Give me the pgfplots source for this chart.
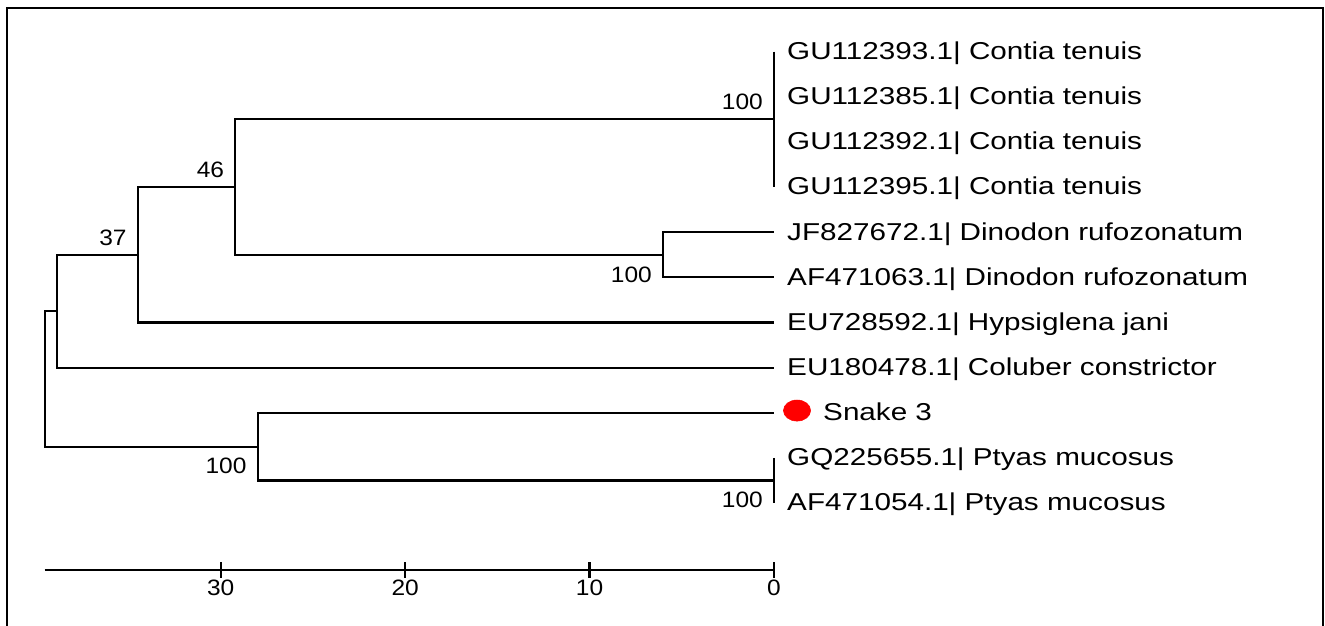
\documentclass[border=0pt]{standalone}
\usepackage{pgfplots}
\pgfplotsset{compat=1.18}
\usepackage{fontspec}
\setmainfont{Liberation Sans}
\newfontfamily\leaffont[FakeStretch=1.215]{Liberation Sans}
\newfontfamily\numfont[FakeStretch=1.1]{Liberation Sans}
\newcommand{\lf}{\leaffont\fontsize{18.3pt}{20pt}\selectfont}
\newcommand{\nf}{\numfont\fontsize{16.7pt}{18pt}\selectfont}
\tikzset{
  br/.style={black, line width=1.6pt, line join=miter},
  leaf/.style={anchor=base west, inner sep=0pt, xshift=9.75pt, yshift=-5.9pt, font=\lf},
  bsa/.style={anchor=base east, inner sep=0pt, xshift=-8.2pt, yshift=7pt, font=\nf},
  bsb/.style={anchor=base east, inner sep=0pt, xshift=-8.2pt, yshift=-20.5pt, font=\nf},
  tl/.style={anchor=base, inner sep=0pt, font=\nf},
}
\begin{document}
\begin{tikzpicture}
\begin{axis}[
  width=993.75pt, height=469.5pt, scale only axis,
  xmin=-29.88, xmax=41.97, x dir=reverse,
  ymin=-1.143, ymax=12.722, y dir=reverse,
  hide axis, clip=false,
]
% frame (left, top, right)
\draw[line width=1.6pt] (axis cs:41.59,12.9) -- (axis cs:41.59,-0.966) -- (axis cs:-29.77,-0.966) -- (axis cs:-29.77,12.9);
% tree branches (x = distance, y = leaf index)
\addplot[br, no marks] coordinates {(0,0) (0,3)};
\addplot[br, no marks] coordinates {(0,4) (6.02,4) (6.02,5) (0,5)};
\addplot[br, no marks] coordinates {(0,1.5) (29.21,1.5) (29.21,4.5) (6.02,4.5)};
\addplot[br, no marks] coordinates {(29.21,3) (34.5,3) (34.5,6) (0,6)};
\addplot[br, no marks] coordinates {(34.5,4.5) (38.88,4.5) (38.88,7) (0,7)};
\addplot[br, no marks] coordinates {(0,9) (0,10)};
\addplot[br, no marks] coordinates {(0,8) (28.0,8) (28.0,9.5) (0,9.5)};
\addplot[br, no marks] coordinates {(38.88,5.75) (39.55,5.75) (39.55,8.75) (28.0,8.75)};
% Snake 3 marker
\addplot[only marks, mark=*, mark size=7.9pt, red, mark options={xscale=1.29, draw=red, fill=red}] coordinates {(-1.25,7.95)};
% scale bar
\addplot[br, no marks] coordinates {(39.55,11.482) (0,11.482)};
\addplot[br, no marks] coordinates {(30,11.305) (30,11.659)};
\addplot[br, no marks] coordinates {(20,11.305) (20,11.659)};
\addplot[br, no marks] coordinates {(10,11.305) (10,11.659)};
\addplot[br, no marks] coordinates {(0,11.305) (0,11.659)};
\node[tl] at (axis cs:30,12.05) {30};
\node[tl] at (axis cs:20,12.05) {20};
\node[tl] at (axis cs:10,12.05) {10};
\node[tl] at (axis cs:0,12.05) {0};
% leaf labels
\node[leaf] at (axis cs:0,0) {GU112393.1| Contia tenuis};
\node[leaf] at (axis cs:0,1) {GU112385.1| Contia tenuis};
\node[leaf] at (axis cs:0,2) {GU112392.1| Contia tenuis};
\node[leaf] at (axis cs:0,3) {GU112395.1| Contia tenuis};
\node[leaf] at (axis cs:0,4) {JF827672.1| Dinodon rufozonatum};
\node[leaf] at (axis cs:0,5) {AF471063.1| Dinodon rufozonatum};
\node[leaf] at (axis cs:0,6) {EU728592.1| Hypsiglena jani};
\node[leaf] at (axis cs:0,7) {EU180478.1| Coluber constrictor};
\node[leaf, xshift=27pt] at (axis cs:0,8) {Snake 3};
\node[leaf] at (axis cs:0,9) {GQ225655.1| Ptyas mucosus};
\node[leaf] at (axis cs:0,10) {AF471054.1| Ptyas mucosus};
% bootstrap values
\node[bsa] at (axis cs:0,1.5) {100};
\node[bsa] at (axis cs:29.21,3) {46};
\node[bsa] at (axis cs:34.5,4.5) {37};
\node[bsb] at (axis cs:6.02,4.5) {100};
\node[bsb] at (axis cs:28.0,8.75) {100};
\node[bsb] at (axis cs:0,9.5) {100};
\end{axis}
\pgfresetboundingbox
\path (current axis.south west) rectangle (current axis.north east);
\end{tikzpicture}
\end{document}
